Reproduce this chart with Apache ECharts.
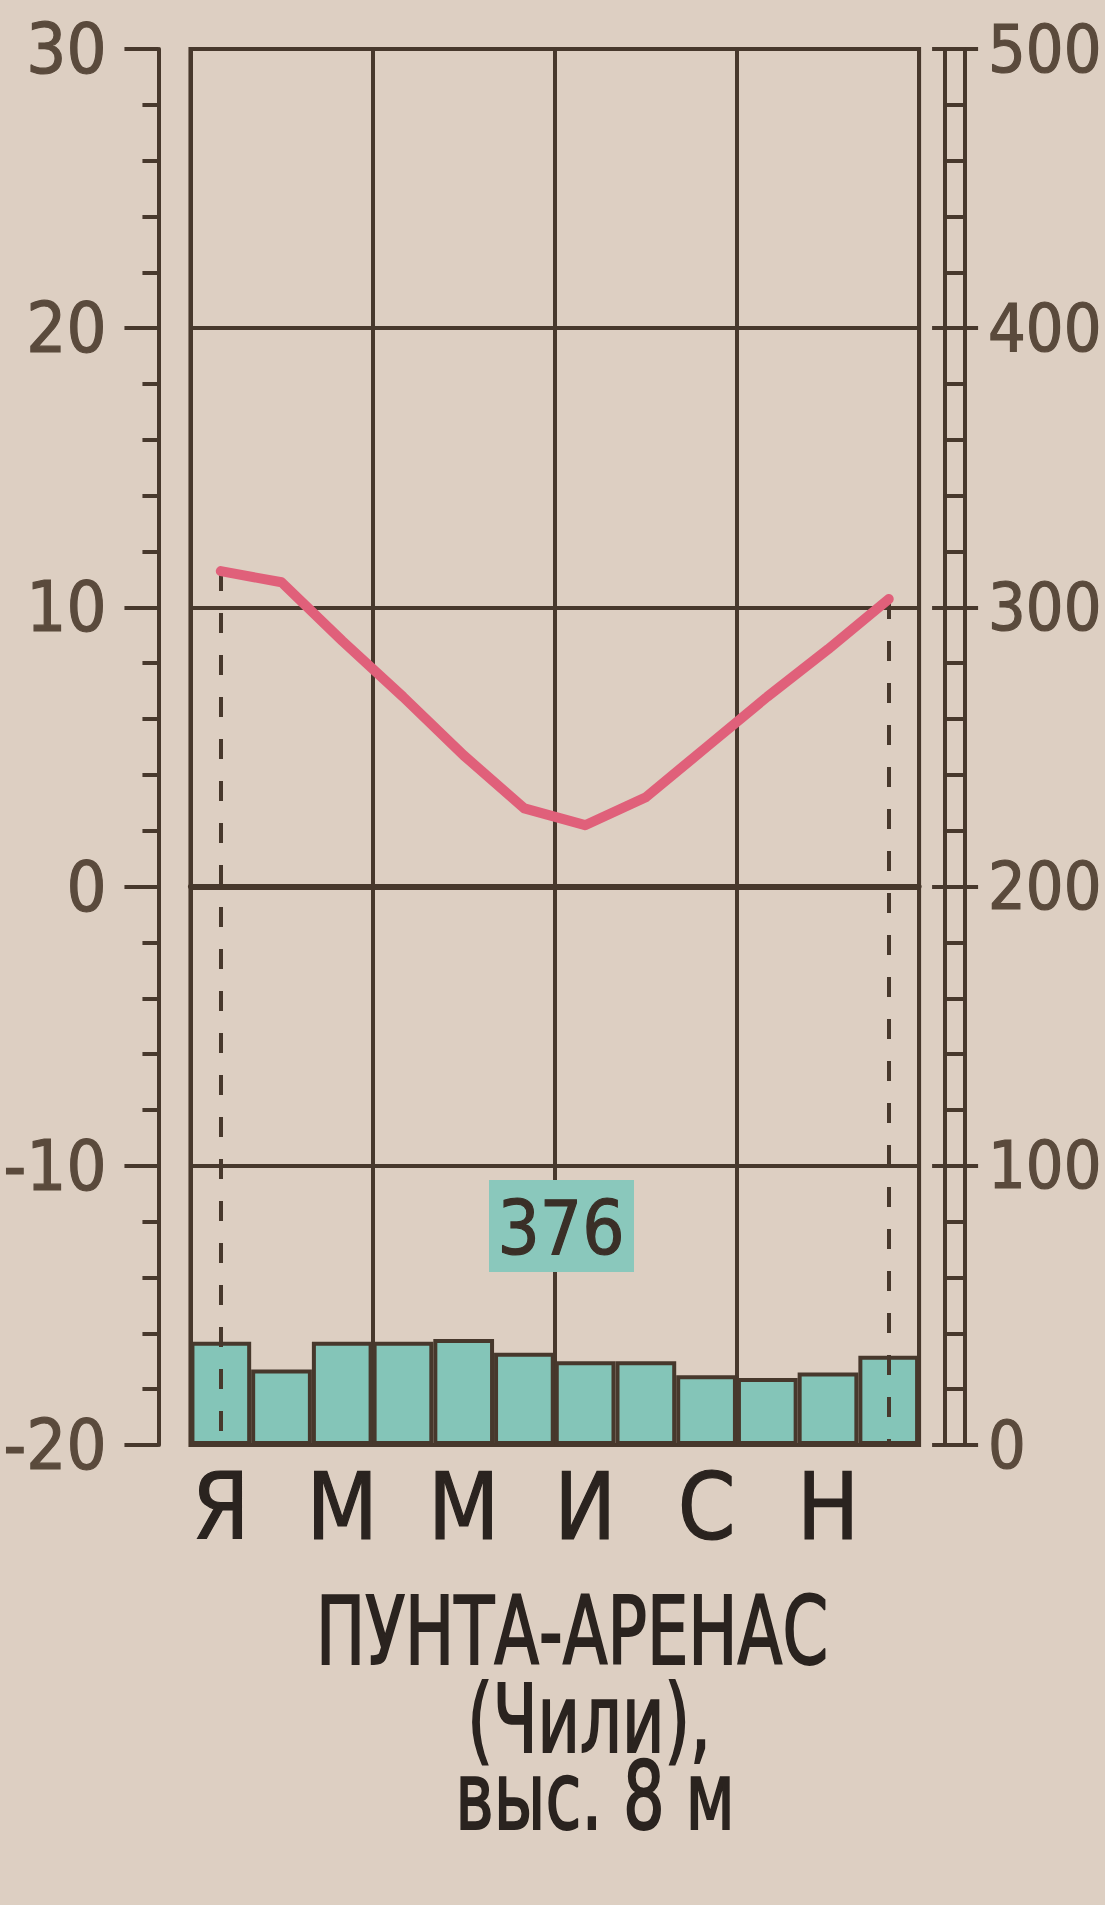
<!DOCTYPE html>
<html><head><meta charset="utf-8">
<script src="https://cdn.jsdelivr.net/npm/echarts@6/dist/echarts.min.js"></script>
<style>html,body{margin:0;padding:0;background:#ddcfc2;} #c{width:1105px;height:1905px;}</style>
</head><body><div id="c"></div>
<script>
// ---- data ----
const months = ['Я','Ф','М','А','М','И','И','А','С','О','Н','Д'];
const temperature = [11.3, 10.9, 8.8, 6.8, 4.7, 2.8, 2.2, 3.2, 5.0, 6.8, 8.5, 10.3];
const precipitation = [37, 27, 37, 37, 38, 33, 30, 30, 25, 24, 26, 32];
const tempRange = [-20, 30];   // °C, step 10
const precipRange = [0, 500];  // mm, step 100
const titleLines = ['ПУНТА-АРЕНАС', '(Чили),', 'выс. 8 м'];

// ---- styles ----
const DARK = '#47382c';
const LABEL = '#5a4a3c';
const INK = '#2a231f';
const TEAL = '#84c5b8';
const RED = '#e0607a';
const FONT = "'Liberation Sans Narrow','Arial Narrow','DejaVu Sans Condensed','Liberation Sans',sans-serif";

const total = precipitation.reduce((a, b) => a + b, 0);
const chart = echarts.init(document.getElementById('c'), null, {renderer: 'svg'});

const thick = (c) => ({textBorderColor: c, textBorderWidth: 1.2});

chart.setOption({
  animation: false,
  backgroundColor: '#ddcfc2',
  grid: {left: 190, right: 162, top: 49, bottom: 460, show: true,
         borderColor: DARK, borderWidth: 4, backgroundColor: 'transparent'},
  xAxis: {
    type: 'category', data: months, boundaryGap: true,
    axisLine: {show: true, lineStyle: {color: DARK, width: 5}},
    axisTick: {show: false},
    axisLabel: Object.assign({interval: 1, fontSize: 92, color: INK, margin: 16, fontFamily: FONT}, thick(INK)),
    splitLine: {show: true, interval: (i) => i % 3 === 0, lineStyle: {color: DARK, width: 4}}
  },
  yAxis: [
    {
      type: 'value', position: 'left', offset: 32,
      min: tempRange[0], max: tempRange[1], interval: 10,
      axisLine: {show: true, lineStyle: {color: DARK, width: 4}},
      axisTick: {show: true, length: 34, lineStyle: {color: DARK, width: 4}},
      minorTick: {show: true, splitNumber: 5, length: 16, lineStyle: {color: DARK, width: 4}},
      axisLabel: Object.assign({fontSize: 70, color: LABEL, margin: 52, fontFamily: FONT}, thick(LABEL)),
      splitLine: {show: true, lineStyle: {color: DARK, width: 4}}
    },
    {
      type: 'value', position: 'right', offset: 26,
      min: precipRange[0], max: precipRange[1], interval: 100,
      axisLine: {show: true, lineStyle: {color: DARK, width: 4}},
      axisTick: {show: true, length: 33, lineStyle: {color: DARK, width: 4}},
      axisLabel: Object.assign({fontSize: 66, color: LABEL, margin: 43, fontFamily: FONT}, thick(LABEL)),
      splitLine: {show: false}
    },
    {
      type: 'value', position: 'right', offset: 46,
      min: precipRange[0], max: precipRange[1], interval: 100,
      axisLine: {show: true, lineStyle: {color: DARK, width: 4}},
      axisTick: {show: true, inside: true, length: 33, lineStyle: {color: DARK, width: 4}},
      minorTick: {show: true, splitNumber: 5, length: 20, lineStyle: {color: DARK, width: 4}},
      axisLabel: {show: false},
      splitLine: {show: false}
    }
  ],
  series: [
    {
      type: 'bar', yAxisIndex: 1, data: precipitation,
      barCategoryGap: '0%',
      itemStyle: {color: TEAL, borderColor: DARK, borderWidth: 4}
    },
    {
      type: 'line', yAxisIndex: 0, data: temperature,
      symbol: 'none', smooth: false,
      lineStyle: {color: RED, width: 10, cap: 'round', join: 'round'},
      z: 5,
      markLine: {
        silent: true, symbol: ['none', 'none'], label: {show: false},
        data: [
          [{coord: [0, temperature[0]], lineStyle: {color: DARK, width: 4, type: [20, 22]}},
           {coord: [0, tempRange[0]]}],
          [{coord: [11, temperature[11]], lineStyle: {color: DARK, width: 4, type: [20, 22]}},
           {coord: [11, tempRange[0]]}],
          {yAxis: 0, lineStyle: {color: DARK, width: 6, type: 'solid'}}
        ]
      }
    }
  ],
  graphic: [
    {type: 'rect', x: 561 - 72, y: 1226 - 46, z: 49,
     shape: {width: 145, height: 92}, style: {fill: '#8ac8bc'}},
    {type: 'text', x: 561, y: 1228, z: 50,
     style: {text: String(total), fontSize: 74, fontFamily: FONT, fill: '#3a2f27',
             align: 'center', verticalAlign: 'middle', stroke: '#3a2f27', lineWidth: 1.2}},
    {type: 'text', x: 572, y: 1632, scaleX: 0.91, scaleY: 1.18,
     style: {text: titleLines[0], fontSize: 80, fontFamily: FONT, fill: INK, stroke: INK, lineWidth: 1.6,
             align: 'center', verticalAlign: 'middle'}},
    {type: 'text', x: 589, y: 1720, scaleX: 0.91, scaleY: 1.18,
     style: {text: titleLines[1], fontSize: 80, fontFamily: FONT, fill: INK, stroke: INK, lineWidth: 1.6,
             align: 'center', verticalAlign: 'middle'}},
    {type: 'text', x: 595, y: 1797, scaleX: 0.91, scaleY: 1.18,
     style: {text: titleLines[2], fontSize: 80, fontFamily: FONT, fill: INK, stroke: INK, lineWidth: 1.6,
             align: 'center', verticalAlign: 'middle'}}
  ]
});
</script></body></html>
